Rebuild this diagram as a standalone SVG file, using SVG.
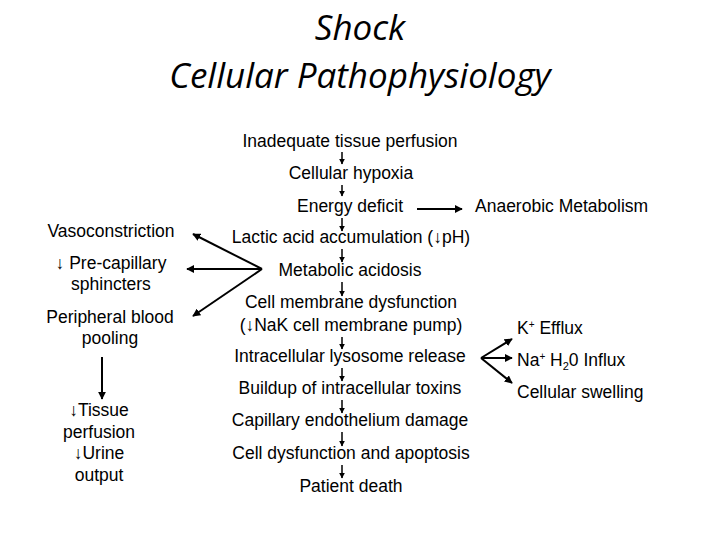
<svg xmlns="http://www.w3.org/2000/svg" width="720" height="540" viewBox="0 0 720 540">
<style>
text{font-family:"Liberation Sans",Arial,sans-serif;font-size:17.5px;fill:#000}
.c{text-anchor:middle}
.t{font-family:"Open Sans","Liberation Sans",sans-serif;font-style:italic;font-size:35px;text-anchor:middle}
.sm{stroke:#000;stroke-width:1.5;fill:none;marker-end:url(#a)}
.ln{stroke:#000;stroke-width:2;fill:none;marker-end:url(#a)}
</style>
<defs><marker id="a" viewBox="0 0 10 10" refX="9" refY="5" markerWidth="4" markerHeight="4" orient="auto"><path d="M0,0L10,5L0,10z" fill="#000"/></marker></defs>
<rect width="720" height="540" fill="#fff"/>
<text class="t" x="360" y="40">Shock</text>
<text class="t" x="360" y="88">Cellular Pathophysiology</text>
<g id="center">
<text class="c" x="350" y="147">Inadequate tissue perfusion</text>
<text class="c" x="351" y="179">Cellular hypoxia</text>
<text class="c" x="350" y="212">Energy deficit</text>
<text class="c" x="351" y="243">Lactic acid accumulation (↓pH)</text>
<text class="c" x="350" y="276">Metabolic acidosis</text>
<text class="c" x="351" y="308">Cell membrane dysfunction</text>
<text class="c" x="351" y="331">(↓NaK cell membrane pump)</text>
<text class="c" x="350" y="362">Intracellular lysosome release</text>
<text class="c" x="350" y="394">Buildup of intracellular toxins</text>
<text class="c" x="350" y="426">Capillary endothelium damage</text>
<text class="c" x="351" y="459">Cell dysfunction and apoptosis</text>
<text class="c" x="351" y="492">Patient death</text>
</g>
<g id="left">
<text class="c" x="111" y="237">Vasoconstriction</text>
<text class="c" x="111" y="269">↓ Pre-capillary</text>
<text class="c" x="111" y="290">sphincters</text>
<text class="c" x="110" y="323">Peripheral blood</text>
<text class="c" x="110" y="344">pooling</text>
<text class="c" x="99" y="416">↓Tissue</text>
<text class="c" x="99" y="438">perfusion</text>
<text class="c" x="99" y="459">↓Urine</text>
<text class="c" x="99" y="481">output</text>
</g>
<g id="right">
<text x="475" y="212">Anaerobic Metabolism</text>
<text x="517" y="334">K<tspan font-size="10" dy="-6">+</tspan><tspan dy="6"> Efflux</tspan></text>
<text x="517" y="366">Na<tspan font-size="10" dy="-6">+</tspan><tspan dy="6">  H</tspan><tspan font-size="11" dy="4">2</tspan><tspan dy="-4">0 Influx</tspan></text>
<text x="517" y="398">Cellular swelling</text>
</g>
<g id="connectors">
<path class="sm" d="M342,152V164"/>
<path class="sm" d="M342,185V196"/>
<path class="sm" d="M342,218V231"/>
<path class="sm" d="M342,249V262"/>
<path class="sm" d="M342,282V296"/>
<path class="sm" d="M342,337V349"/>
<path class="sm" d="M342,368V381"/>
<path class="sm" d="M342,400V413"/>
<path class="sm" d="M342,432V446"/>
<path class="sm" d="M342,465V478"/>
<path class="ln" d="M417,209H462"/>
<path class="ln" d="M262,269L193,234"/>
<path class="ln" d="M262,269H187"/>
<path class="ln" d="M262,269L193,316"/>
<path class="ln" d="M481,358L512,339"/>
<path class="ln" d="M481,358H512"/>
<path class="ln" d="M481,358L512,383"/>
<path class="ln" d="M102,357V399"/>
</g>
</svg>
